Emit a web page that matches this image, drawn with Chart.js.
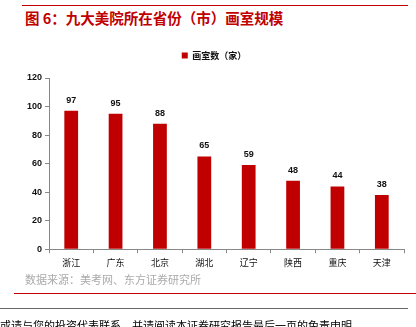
<!DOCTYPE html>
<html>
<head>
<meta charset="utf-8">
<script src="https://cdn.jsdelivr.net/npm/chart.js@4"></script>
<style>
  html, body { margin: 0; padding: 0; background: #fff; }
  body { width: 416px; height: 327px; position: relative; overflow: hidden; font-family: "Noto Sans CJK SC", sans-serif; }
  .line { position: absolute; height: 1px; }
  #title { position: absolute; left: 25px; top: 7px; color: #c00000; font-size: 14.5px; font-weight: bold; white-space: nowrap; }
  #source { position: absolute; left: 25px; top: 271px; color: #aaaaaa; font-size: 11px; white-space: nowrap; }
  #footer { position: absolute; left: 0px; top: 317px; color: #000; font-size: 11px; white-space: nowrap; }
  #wrap { position: absolute; left: 0; top: 40px; width: 416px; height: 232px; }
</style>
</head>
<body>
<div class="line" style="left:22px; top:5px; width:386px; background:#c00000;"></div>
<div id="title">图 6：九大美院所在省份（市）画室规模</div>
<div id="wrap"><canvas id="chart"></canvas></div>
<div id="source">数据来源：美考网、东方证券研究所</div>
<div class="line" style="left:14px; top:293px; width:402px; background:#c00000;"></div>
<div class="line" style="left:0px; top:308px; width:408px; background:#666;"></div>
<div id="footer">或请与您的投资代表联系，并请阅读本证券研究报告最后一页的免责申明。</div>
<script>
const categories = ['浙江', '广东', '北京', '湖北', '辽宁', '陕西', '重庆', '天津'];
const studioCounts = [97, 95, 88, 65, 59, 48, 44, 38];
const yTicks = [0, 20, 40, 60, 80, 100, 120];
const seriesName = '画室数（家）';

// numbers above the bars
const valueLabels = {
    id: 'valueLabels',
    afterDatasetsDraw(c) {
        const ctx = c.ctx;
        ctx.save();
        ctx.font = 'bold 9px "Liberation Sans", Arial, sans-serif';
        ctx.fillStyle = '#111';
        ctx.textAlign = 'center';
        ctx.textBaseline = 'bottom';
        c.getDatasetMeta(0).data.forEach((bar, i) => {
            ctx.fillText(c.data.datasets[0].data[i], bar.x, bar.y - 6);
        });
        ctx.restore();
    }
};

// extra room under the legend
const legendGap = {
    id: 'legendGap',
    beforeInit(c) {
        const fit = c.legend.fit;
        c.legend.fit = function () {
            fit.bind(c.legend)();
            this.height += 8;
        };
    }
};

const ctx = document.getElementById('chart').getContext('2d');
const chart = new Chart(ctx, {
    type: 'bar',
    data: {
        labels: categories,
        datasets: [{
            label: seriesName,
            data: studioCounts,
            backgroundColor: '#c00000',
            categoryPercentage: 1,
            barPercentage: 0.31
        }]
    },
    options: {
        animation: false,
        responsive: true,
        maintainAspectRatio: false,
        layout: { padding: { left: 24, right: 12, top: 5, bottom: 0 } },
        plugins: {
            legend: {
                position: 'top',
                labels: {
                    boxWidth: 6,
                    boxHeight: 6,
                    padding: 6,
                    color: '#111',
                    font: { size: 9, weight: 'bold', family: '"Noto Sans CJK SC", sans-serif' }
                }
            },
            tooltip: { enabled: false }
        },
        scales: {
            x: {
                offset: true,
                grid: { offset: true, drawOnChartArea: false, tickLength: 4, color: '#888' },
                border: { color: '#888' },
                ticks: { color: '#111', padding: 4, font: { size: 9, family: '"Noto Sans CJK SC", sans-serif' }, maxRotation: 0 }
            },
            y: {
                min: 0,
                max: 120,
                afterBuildTicks: axis => { axis.ticks = yTicks.map(v => ({ value: v })); },
                grid: { drawOnChartArea: false, tickLength: 4, color: '#888' },
                border: { color: '#888' },
                ticks: { color: '#111', padding: 3, font: { size: 9, weight: 'bold', family: '"Liberation Sans", Arial, sans-serif' } }
            }
        }
    },
    plugins: [valueLabels, legendGap]
});
</script>
</body>
</html>
